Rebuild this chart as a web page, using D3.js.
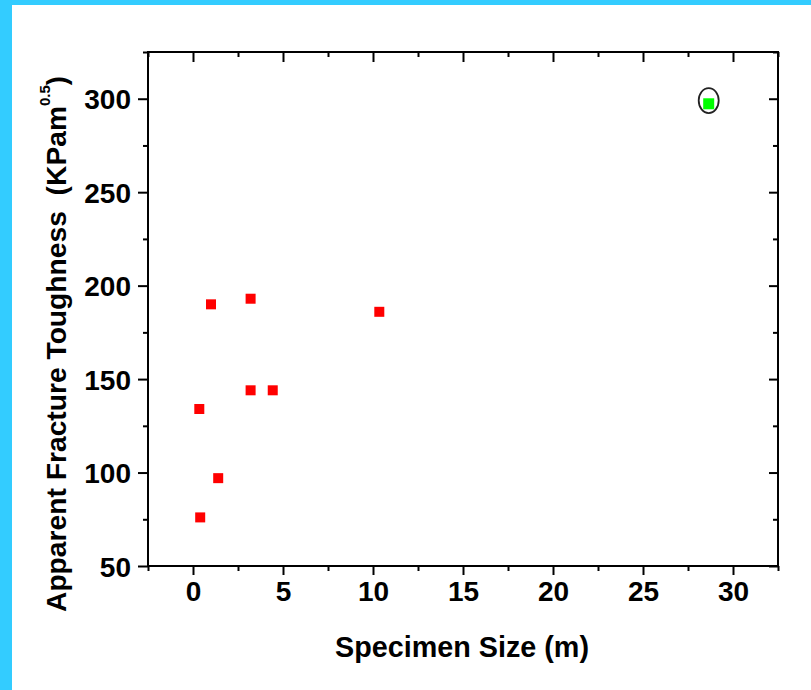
<!DOCTYPE html>
<html>
<head>
<meta charset="utf-8">
<script src="https://cdn.jsdelivr.net/npm/d3@7"></script>
<style>
  html, body { margin: 0; padding: 0; background: #fff; }
  svg { display: block; }
  text { font-family: "Liberation Sans", Arial, sans-serif; font-weight: bold; fill: #000; white-space: pre; }
</style>
</head>
<body>
<svg id="chart" width="811" height="690"></svg>
<script>
// ---- data ----
const sizeRed = [1.0, 3.2, 10.35, 3.2, 4.43, 0.35, 1.4, 0.4];
const toughRed = [190, 193, 186, 144, 144, 134, 97, 76];
const sizeGreen = [28.65];
const toughGreen = [297.3];
const circledPoint = [28.65, 299];
const xTicks = [0, 5, 10, 15, 20, 25, 30];
const yTicks = [50, 100, 150, 200, 250, 300];
const xDomain = [-2.5, 32.5];
const yDomain = [50, 325];
const xTitle = "Specimen Size (m)";
const yTitle = "Apparent Fracture Toughness  (KPam";
const yTitleSup = "0.5";

const W = 811, H = 690;
const L = 148, T = 52, R = 778, B = 566;
const svg = d3.select("#chart");

// cyan frame
svg.append("rect").attr("x", 0).attr("y", 0).attr("width", W).attr("height", 5).attr("fill", "#33CCFF");
svg.append("rect").attr("x", 0).attr("y", 0).attr("width", 12).attr("height", H).attr("fill", "#33CCFF");

const x = d3.scaleLinear().domain(xDomain).range([L, R]);
const y = d3.scaleLinear().domain(yDomain).range([B, T]);

const xMinor = d3.range(xDomain[0], xDomain[1] + 0.001, 2.5).filter(v => Math.abs(v / 5 - Math.round(v / 5)) > 1e-6);
const yMinor = d3.range(75, yDomain[1] + 0.001, 50);

const fmt = d3.format("d");
const major = 9, minor = 5;

function styleAxis(g) {
  g.select(".domain").remove();
  g.selectAll(".tick line").attr("stroke", "#000").attr("stroke-width", 2);
}

// bottom (outward)
svg.append("g").attr("transform", `translate(0,${B})`)
  .call(d3.axisBottom(x).tickValues(xTicks).tickFormat(fmt).tickSize(major).tickPadding(6))
  .call(styleAxis)
  .call(g => g.selectAll("text").attr("font-size", 28).attr("dy", "0.71em"));
svg.append("g").attr("transform", `translate(0,${B})`)
  .call(d3.axisBottom(x).tickValues(xMinor).tickFormat("").tickSize(minor))
  .call(styleAxis);
// top (inward)
svg.append("g").attr("transform", `translate(0,${T})`)
  .call(d3.axisBottom(x).tickValues(xTicks).tickFormat("").tickSize(major + 1))
  .call(styleAxis);
svg.append("g").attr("transform", `translate(0,${T})`)
  .call(d3.axisBottom(x).tickValues(xMinor).tickFormat("").tickSize(minor))
  .call(styleAxis);
// left (outward)
svg.append("g").attr("transform", `translate(${L},0)`)
  .call(d3.axisLeft(y).tickValues(yTicks).tickFormat(fmt).tickSize(major + 1).tickPadding(7))
  .call(styleAxis)
  .call(g => g.selectAll("text").attr("font-size", 28).attr("dy", "0.36em"));
svg.append("g").attr("transform", `translate(${L},0)`)
  .call(d3.axisLeft(y).tickValues(yMinor).tickFormat("").tickSize(minor))
  .call(styleAxis);
// right (inward)
svg.append("g").attr("transform", `translate(${R},0)`)
  .call(d3.axisLeft(y).tickValues(yTicks).tickFormat("").tickSize(major))
  .call(styleAxis);
svg.append("g").attr("transform", `translate(${R},0)`)
  .call(d3.axisLeft(y).tickValues(yMinor).tickFormat("").tickSize(minor))
  .call(styleAxis);

// frame
svg.append("rect").attr("x", L).attr("y", T).attr("width", R - L).attr("height", B - T)
  .attr("fill", "none").attr("stroke", "#000").attr("stroke-width", 2);

// points
const sq = 10;
svg.append("g").selectAll("rect").data(d3.zip(sizeRed, toughRed)).join("rect")
  .attr("x", d => x(d[0]) - sq / 2).attr("y", d => y(d[1]) - sq / 2)
  .attr("width", sq).attr("height", sq).attr("fill", "#FF0000");
svg.append("g").selectAll("rect").data(d3.zip(sizeGreen, toughGreen)).join("rect")
  .attr("x", d => x(d[0]) - 5.5).attr("y", d => y(d[1]) - 5.5)
  .attr("width", 11).attr("height", 11).attr("fill", "#00FF00");
svg.append("ellipse")
  .attr("cx", x(circledPoint[0])).attr("cy", y(circledPoint[1]))
  .attr("rx", 10).attr("ry", 12.5)
  .attr("fill", "none").attr("stroke", "#222").attr("stroke-width", 1.8);

// titles
svg.append("text").attr("x", 462).attr("y", 657).attr("text-anchor", "middle")
  .attr("font-size", 29).attr("textLength", 254).attr("lengthAdjust", "spacingAndGlyphs")
  .text(xTitle);

const yt = svg.append("text").attr("transform", "translate(66,612) rotate(-90)")
  .attr("font-size", 27);
yt.append("tspan").attr("textLength", 506).attr("lengthAdjust", "spacingAndGlyphs").text(yTitle);
yt.append("tspan").attr("font-size", 15).attr("dy", -16).text(yTitleSup);
yt.append("tspan").attr("dy", 16).text(")");
</script>
</body>
</html>
